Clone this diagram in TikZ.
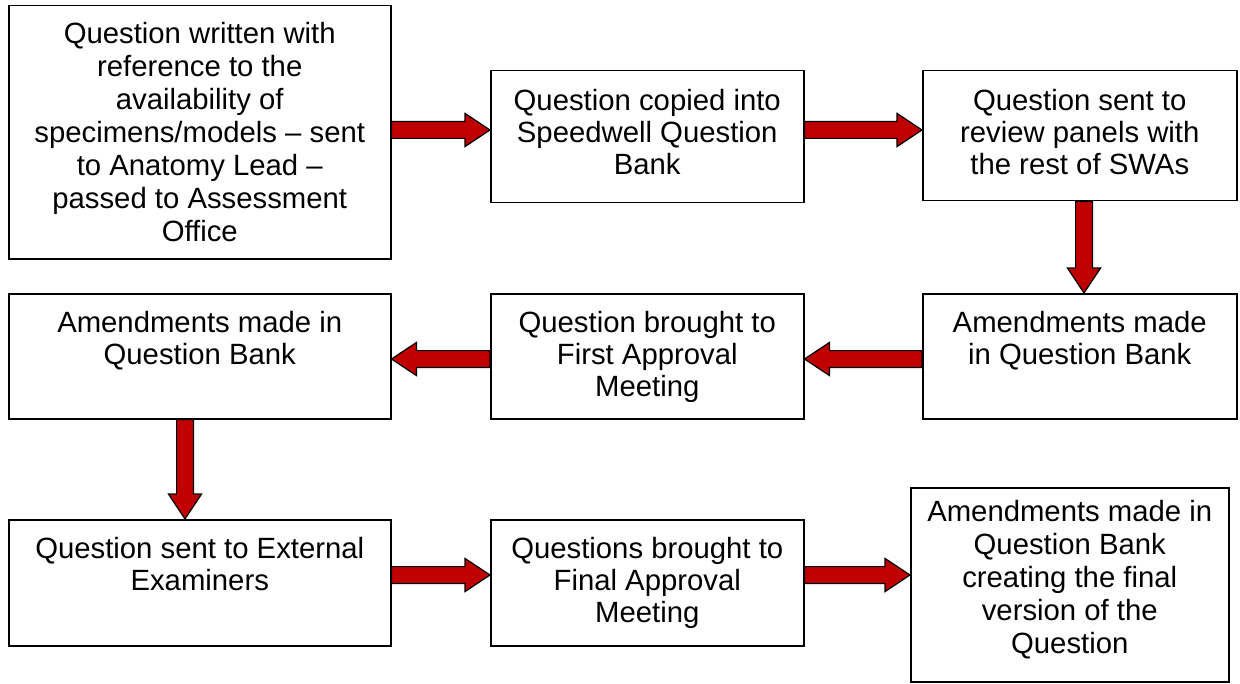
\documentclass[tikz,border=0pt]{standalone}
\usepackage{fontspec}
\setmainfont{Liberation Sans}
\usetikzlibrary{calc}
\definecolor{arrowred}{RGB}{192, 0, 0}

% block arrow between two points (any direction)
\newcommand{\blockarrow}[2]{%
  \coordinate (ba-s) at (#1);
  \coordinate (ba-t) at (#2);
  \coordinate (ba-h) at ($(ba-t)!12.5pt!(ba-s)$);
  \draw[barrow] ($(ba-s)!4.2pt!90:(ba-t)$) -- ($(ba-h)!4.2pt!90:(ba-t)$)
    -- ($(ba-h)!8.3pt!90:(ba-t)$) -- (ba-t) -- ($(ba-h)!8.3pt!-90:(ba-t)$)
    -- ($(ba-h)!4.2pt!-90:(ba-t)$) -- ($(ba-s)!4.2pt!-90:(ba-t)$) -- cycle;
}

\begin{document}
\begin{tikzpicture}[
    x=0.5pt, y=0.5pt,
    box/.style 2 args={rectangle, draw, line width=0.75pt, anchor=north west, inner sep=0pt, minimum width=#1, minimum height=#2},
    txt/.style={font=\fontsize{14.65}{16}\selectfont, align=center, inner sep=0pt, anchor=north},
    txtwide/.style={txt, font=\fontsize{14.65}{16.5}\selectfont},
    barrow/.style={fill=arrowred, draw=black, line width=0.6pt, line join=miter}
]
\useasboundingbox (0,0) rectangle (1240,-684);

% row 1
\node[box={191pt}{126.5pt}] (b1) at (8,-5) {};
\node[box={156.5pt}{66pt}] (b2) at (490,-70) {};
\node[box={157pt}{65pt}] (b3) at (922,-70) {};
% row 2
\node[box={191pt}{62.5pt}] (b4) at (8,-293) {};
\node[box={156.5pt}{62.5pt}] (b5) at (490,-293) {};
\node[box={157pt}{62.5pt}] (b6) at (922,-293) {};
% row 3
\node[box={191pt}{63pt}] (b7) at (8,-519) {};
\node[box={156.5pt}{63pt}] (b8) at (490,-519) {};
\node[box={159pt}{97pt}] (b9) at (910,-487) {};

% texts (top aligned)
\node[txtwide] (t1) at ([yshift=-8.5pt]b1.north) {Question written with\\reference to the\\availability of\\specimens/models -- sent\\to Anatomy Lead --\\passed to Assessment\\Office};
\node[txt] (t2) at ([yshift=-9.5pt]b2.north) {Question copied into\\Speedwell Question\\Bank};
\node[txt] (t3) at ([yshift=-9.5pt]b3.north) {Question sent to\\review panels with\\the rest of SWAs};
\node[txt] (t4) at ([yshift=-9pt]b4.north) {Amendments made in\\Question Bank};
\node[txt] (t5) at ([yshift=-9pt]b5.north) {Question brought to\\First Approval\\Meeting};
\node[txt] (t6) at ([yshift=-9pt]b6.north) {Amendments made\\in Question Bank};
\node[txt] (t7) at ([yshift=-9pt]b7.north) {Question sent to External\\Examiners};
\node[txt] (t8) at ([yshift=-9pt]b8.north) {Questions brought to\\Final Approval\\Meeting};
\node[txtwide] (t9) at ([yshift=-6.5pt]b9.north) {Amendments made in\\Question Bank\\creating the final\\version of the\\Question};

% arrows
\blockarrow{b1.east |- 0,-130}{b2.west |- 0,-130}
\blockarrow{b2.east |- 0,-130}{b3.west |- 0,-130}
\blockarrow{b3.south -| 1084,0}{b6.north -| 1084,0}
\blockarrow{b6.west |- 0,-359}{b5.east |- 0,-359}
\blockarrow{b5.west |- 0,-359}{b4.east |- 0,-359}
\blockarrow{b4.south -| 185,0}{b7.north -| 185,0}
\blockarrow{b7.east |- 0,-575}{b8.west |- 0,-575}
\blockarrow{b8.east |- 0,-575}{b9.west |- 0,-575}

\end{tikzpicture}
\end{document}
